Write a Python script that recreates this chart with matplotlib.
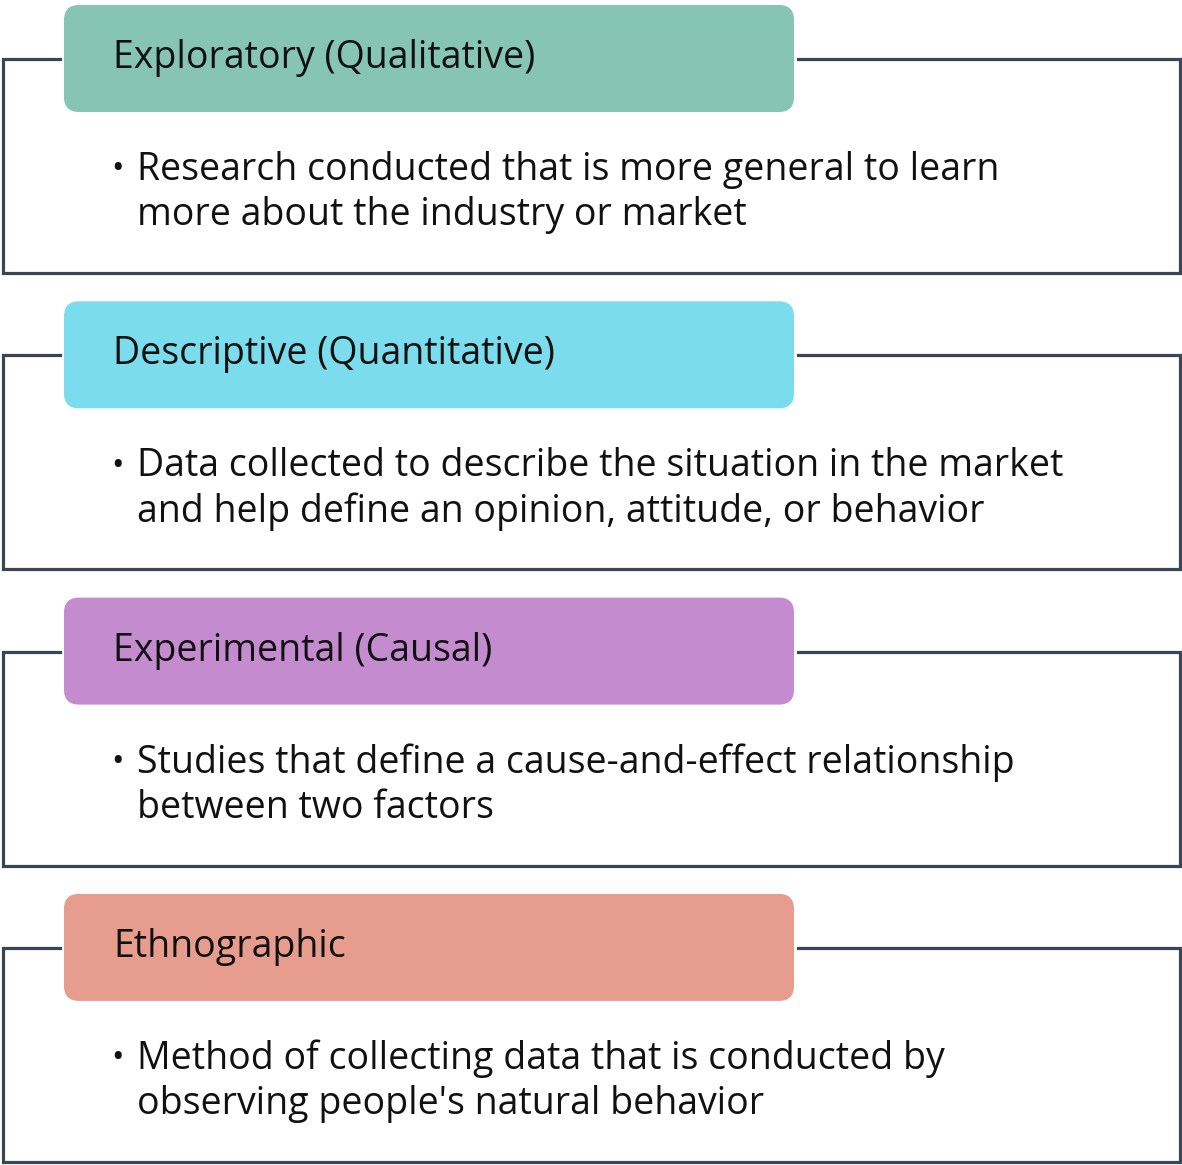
import matplotlib
matplotlib.use("Agg")
import matplotlib.pyplot as plt
from matplotlib.patches import FancyBboxPatch

titles = ["Exploratory (Qualitative)", "Descriptive (Quantitative)", "Experimental (Causal)", "Ethnographic"]
lines1 = ["Research conducted that is more general to learn",
          "Data collected to describe the situation in the market",
          "Studies that define a cause-and-effect relationship",
          "Method of collecting data that is conducted by"]
lines2 = ["more about the industry or market",
          "and help define an opinion, attitude, or behavior",
          "between two factors",
          "observing people's natural behavior"]
colors = ["#86c5b2", "#7adcec", "#c48bcf", "#e69d8e"]

W, H = 1182, 1165
fig = plt.figure(figsize=(W/100, H/100), dpi=100)
ax = fig.add_axes([0, 0, 1, 1])
ax.set_xlim(0, W); ax.set_ylim(H, 0); ax.axis("off")
lc = "#3a4555"; lw = 2.3
font = "Open Sans"
fs = 27
for i in range(4):
    o = i * 296.3
    top, bot = 59 + o, 273 + o
    ax.plot([60, 3, 3, 1180, 1180, 798], [top, top, bot, bot, top, top], color=lc, lw=lw, solid_joinstyle="miter")
    ax.add_patch(FancyBboxPatch((64 + 15, 5 + o + 15), 730 - 30, 107 - 30,
                                boxstyle="round,pad=15", fc=colors[i], ec="none", mutation_aspect=1))
    ax.text(113, 58 + o, titles[i], fontsize=fs, family=font, va="center", ha="left", color="#111111")
    ax.text(111, 170 + o, "•", fontsize=24, family=font, va="center", ha="left", color="#111111")
    ax.text(137, 170 + o, lines1[i], fontsize=fs, family=font, va="center", ha="left", color="#111111")
    ax.text(137, 215 + o, lines2[i], fontsize=fs, family=font, va="center", ha="left", color="#111111")
fig.savefig("out.png", dpi=100)
